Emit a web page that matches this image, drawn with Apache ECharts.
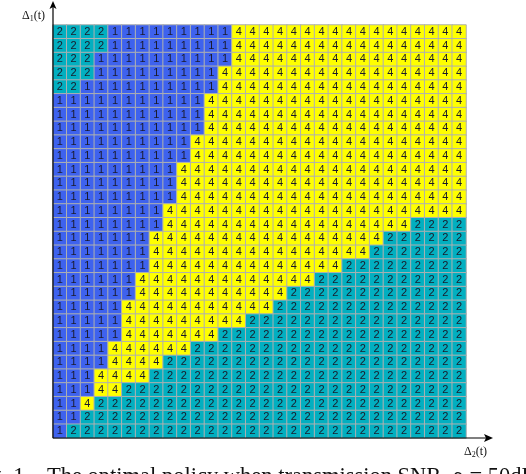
<!DOCTYPE html>
<html>
<head>
<meta charset="utf-8">
<style>html,body{margin:0;padding:0;background:#fff}#c{width:526px;height:474px}</style>
<script src="https://cdn.jsdelivr.net/npm/echarts@6/dist/echarts.min.js"></script>
</head>
<body>
<div id="c"></div>
<script>
// Optimal policy, one string per row from top to bottom, one digit per cell from left to right.
const policyRows = [
  '222211111111144444444444444444',
  '222211111111144444444444444444',
  '222111111111144444444444444444',
  '222111111111444444444444444444',
  '221111111111444444444444444444',
  '111111111114444444444444444444',
  '111111111114444444444444444444',
  '111111111114444444444444444444',
  '111111111144444444444444444444',
  '111111111144444444444444444444',
  '111111111444444444444444444444',
  '111111111444444444444444444444',
  '111111111444444444444444444444',
  '111111114444444444444444444444',
  '111111114444444444444444442222',
  '111111144444444444444444222222',
  '111111144444444444444442222222',
  '111111144444444444444222222222',
  '111111444444444444422222222222',
  '111111444444444442222222222222',
  '111114444444444422222222222222',
  '111114444444442222222222222222',
  '111114444444222222222222222222',
  '111144444422222222222222222222',
  '111144442222222222222222222222',
  '111444422222222222222222222222',
  '111442222222222222222222222222',
  '114222222222222222222222222222',
  '112222222222222222222222222222',
  '122222222222222222222222222222'
];
const policyColors = { 1: '#3e62ee', 2: '#02afc0', 4: '#ffff00' };
const xName = '{d|Δ}{s|2}{d|(t)}';
const yName = '{d|Δ}{s|1}{d|(t)}';
const caption = 'Fig. 1.   The optimal policy when transmission SNR, ρ = 50dB';

const rowCount = policyRows.length;
const colCount = policyRows[0].length;
const xCats = Array.from({ length: colCount }, (_, i) => String(i + 1));
const yCats = Array.from({ length: rowCount }, (_, i) => String(i + 1));
const cells = [];
policyRows.forEach((row, r) => {
  row.split('').forEach((v, c) => cells.push([c, rowCount - 1 - r, Number(v)]));
});

const G = { left: 53, top: 25, size: 413 };
const bottom = G.top + G.size;
const richName = {
  d: { fontFamily: 'Liberation Serif', fontSize: 12, color: '#111' },
  s: { fontFamily: 'Liberation Serif', fontSize: 8, color: '#111', verticalAlign: 'bottom', padding: [7, 0, 0, 0] }
};

const chart = echarts.init(document.getElementById('c'), null, { renderer: 'canvas' });
chart.setOption({
  animation: false,
  backgroundColor: '#fff',
  grid: { left: G.left, top: G.top, width: G.size, height: G.size, containLabel: false },
  xAxis: {
    type: 'category', data: xCats, position: 'bottom',
    axisLine: { show: false }, axisTick: { show: false }, axisLabel: { show: false }, splitLine: { show: false },
    name: xName, nameLocation: 'end', nameGap: -2,
    nameTextStyle: { rich: richName, align: 'left', verticalAlign: 'top', padding: [6, 0, 0, 0] }
  },
  yAxis: {
    type: 'category', data: yCats,
    axisLine: { show: false }, axisTick: { show: false }, axisLabel: { show: false }, splitLine: { show: false },
    name: yName, nameLocation: 'end', nameGap: 2,
    nameTextStyle: { rich: richName, align: 'right', verticalAlign: 'bottom', padding: [0, 8, 0, 0] }
  },
  visualMap: {
    show: false, type: 'piecewise', dimension: 2,
    pieces: Object.keys(policyColors).map(k => ({ value: Number(k), color: policyColors[k] }))
  },
  series: [{
    type: 'heatmap',
    data: cells,
    encode: { x: 0, y: 1 },
    itemStyle: { borderColor: '#aeb0b0', borderWidth: 1 },
    label: {
      show: true,
      formatter: p => String(p.value[2]),
      fontFamily: 'Liberation Sans',
      fontSize: 11,
      color: '#1a1a2a'
    },
    emphasis: { disabled: true }
  }],
  graphic: [
    { type: 'polyline', z: 100, shape: { points: [[G.left, bottom], [490, bottom]] }, style: { stroke: '#000', lineWidth: 1.2, fill: null } },
    { type: 'polygon', z: 100, shape: { points: [[484, bottom - 4], [493, bottom], [484, bottom + 4], [486, bottom]] }, style: { fill: '#000' } },
    { type: 'polyline', z: 100, shape: { points: [[G.left, bottom], [G.left, 6]] }, style: { stroke: '#000', lineWidth: 1.2, fill: null } },
    { type: 'polygon', z: 100, shape: { points: [[G.left - 3.5, 9], [G.left, 1], [G.left + 3.5, 9], [G.left, 7]] }, style: { fill: '#000' } },
    { type: 'text', z: 100, x: -28, y: 466, style: { text: caption, fontFamily: 'Liberation Serif', fontSize: 22.5, fill: '#111' } }
  ]
});
</script>
</body>
</html>
